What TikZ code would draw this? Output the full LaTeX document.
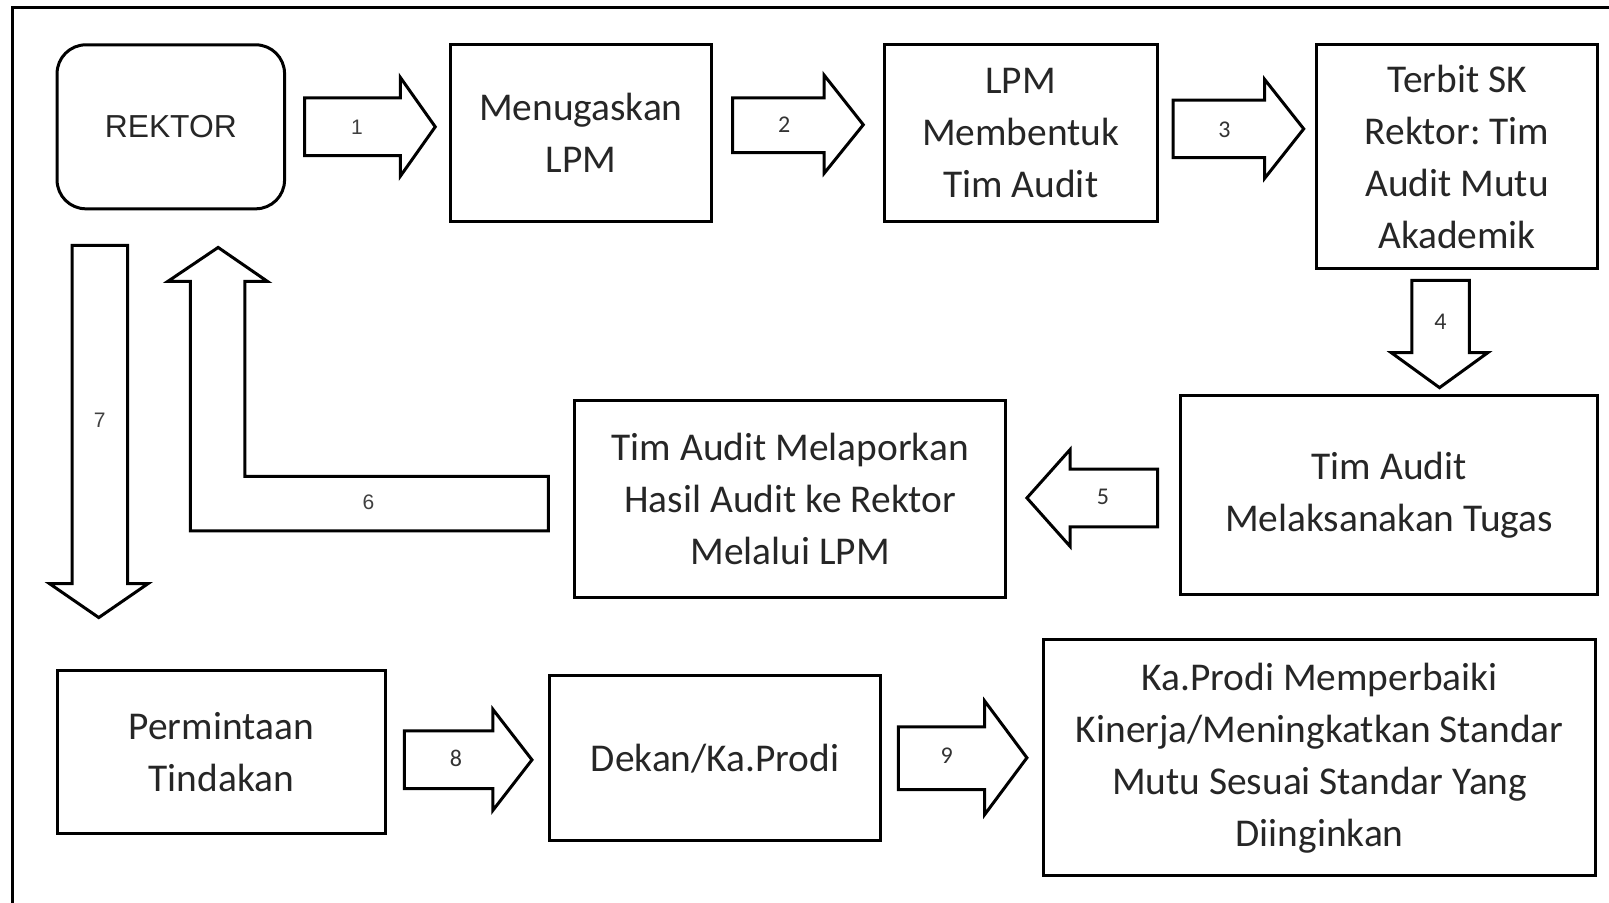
\documentclass[tikz,border=0pt]{standalone}
\usepackage{fontspec}
\setmainfont{Carlito}
\newfontfamily\arialf{Liberation Sans}
\frenchspacing
\begin{document}
\begin{tikzpicture}[x=0.5145pt,y=-0.5155pt,
  box/.style={draw, line width=1.5pt, inner sep=0pt, align=center, text=black!85, font=\fontsize{19.7}{26}\selectfont},
  blk/.style={draw, line width=1.5pt, fill=white, line join=miter},
  num/.style={inner sep=0pt, text=black!80, font=\fontsize{12}{13}\selectfont},
  numa/.style={inner sep=0pt, text=black!75, font=\arialf\fontsize{10.5}{12}\selectfont}]
\useasboundingbox (0,0) rectangle (1563.7,874.9);
% frame
\draw[line width=1.5pt] (12,880) -- (12,7) -- (1570,7);

% boxes
\node[box, rounded corners=14.4pt, minimum width=113.75pt, minimum height=82pt, font=\arialf\fontsize{15.9}{19}\selectfont] (rektor) at (166,123) {REKTOR};
\node[box, minimum width=130.7pt, minimum height=88.2pt] (b1) at (564.5,129) {Menugaskan\\LPM};
\node[box, minimum width=136.4pt, minimum height=88.2pt] (b2) at (992,129) {LPM\\Membentuk\\Tim Audit};
\node[box, minimum width=140.5pt, minimum height=111.9pt] (b3) at (1416,152) {Terbit SK\\Rektor: Tim\\Audit Mutu\\Akademik};
\node[box, minimum width=208.4pt, minimum height=99.5pt] (b4) at (1350,480) {Tim Audit\\Melaksanakan Tugas};
\node[box, minimum width=215.6pt, minimum height=98.5pt] (b5) at (768,484) {Tim Audit Melaporkan\\Hasil Audit ke Rektor\\Melalui LPM};
\node[box, minimum width=164.2pt, minimum height=81.5pt] (b6) at (215,729.5) {Permintaan\\Tindakan};
\node[box, minimum width=165.2pt, minimum height=82.5pt] (b7) at (695,735.5) {Dekan/Ka.Prodi};
\node[box, minimum width=275.8pt, minimum height=118.1pt] (b8) at (1282.5,735) {Ka.Prodi Memperbaiki\\Kinerja/Meningkatkan Standar\\Mutu Sesuai Standar Yang\\Diinginkan};

% block arrows
\draw[blk] (296,95) -- (389,95) -- (389,75) -- (423,123) -- (389,171) -- (389,151) -- (296,151) -- cycle;
\node[numa] (n1) at (347,123) {1};
\draw[blk] (712,95) -- (801,95) -- (801,73) -- (839,121) -- (801,168) -- (801,148) -- (712,148) -- cycle;
\node[num] (n2) at (762,121) {2};
\draw[blk] (1140,97) -- (1229,97) -- (1229,77) -- (1267,125) -- (1229,173) -- (1229,153) -- (1140,153) -- cycle;
\node[num] (n3) at (1190,126) {3};
\draw[blk] (1372,272) -- (1428,272) -- (1428,342) -- (1446,342) -- (1399,376) -- (1352,342) -- (1372,342) -- cycle;
\node[num] (n4) at (1400,312) {4};
\draw[blk] (1125,455) -- (1040,455) -- (1040,436) -- (998,483) -- (1040,530) -- (1040,511) -- (1125,511) -- cycle;
\node[num] (n5) at (1072,482) {5};
\draw[blk] (533,462) -- (238,462) -- (238,273) -- (260,273) -- (212,240) -- (163,273) -- (185,273) -- (185,515) -- (533,515) -- cycle;
\node[numa] (n6) at (358,487) {6};
\draw[blk] (70,238) -- (124,238) -- (124,566) -- (144,566) -- (96,599) -- (48,566) -- (70,566) -- cycle;
\node[numa] (n7) at (97,408) {7};
\draw[blk] (393,709) -- (479,709) -- (479,688) -- (517,737) -- (479,786) -- (479,765) -- (393,765) -- cycle;
\node[num] (n8) at (443,736) {8};
\draw[blk] (873,705) -- (957,705) -- (957,680) -- (998,735) -- (957,790) -- (957,766) -- (873,766) -- cycle;
\node[num] (n9) at (920,733) {9};
\end{tikzpicture}
\end{document}
